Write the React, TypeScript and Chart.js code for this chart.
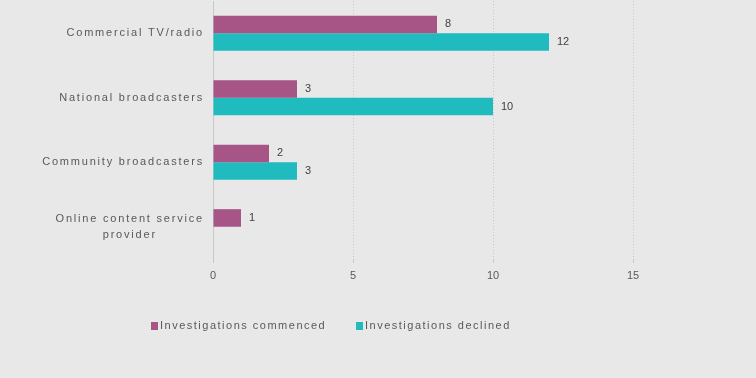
import React, { useEffect, useRef } from "react";
import { Chart, registerables } from "chart.js";

Chart.register(...registerables);

const categories: (string | string[])[] = [
  "Commercial TV/radio",
  "National broadcasters",
  "Community broadcasters",
  ["Online content service", "provider"],
];
const commenced = [8, 3, 2, 1];
const declined: (number | null)[] = [12, 10, 3, null];
const seriesNames = ["Investigations commenced", "Investigations declined"];
const colors = ["#A65586", "#1FBBBF"];

const BG = "#E8E8E8";
const TEXT = "#595959";
const FONT = "'Liberation Sans', Arial, sans-serif";

const customPlugin = {
  id: "custom",
  beforeDraw(chart: any) {
    const ctx = chart.ctx;
    ctx.save();
    ctx.fillStyle = BG;
    ctx.fillRect(0, 0, chart.width, chart.height);
    ctx.restore();
  },
  afterDraw(chart: any) {
    const ctx = chart.ctx as any;
    const y = chart.scales.y;
    // y labels
    ctx.save();
    ctx.font = `11px ${FONT}`;
    ctx.fillStyle = TEXT;
    ctx.letterSpacing = "1.8px";
    ctx.textBaseline = "middle";
    ctx.textAlign = "center";
    const right = 204;
    categories.forEach((lab, i) => {
      const lines = Array.isArray(lab) ? lab : [lab];
      const cy = y.getPixelForTick(i);
      const w = Math.max(...lines.map((l) => ctx.measureText(l).width));
      const cx = right - w / 2;
      const lh = 16;
      lines.forEach((l, j) => {
        const ly = cy + (j - (lines.length - 1) / 2) * lh;
        ctx.fillText(l, cx, ly);
      });
    });
    // legend
    ctx.letterSpacing = "1.5px";
    ctx.textAlign = "left";
    const legendY = 326;
    const xs = [151, 356];
    seriesNames.forEach((n, i) => {
      ctx.fillStyle = colors[i];
      ctx.fillRect(xs[i], legendY - 4, 7, 8);
      ctx.fillStyle = TEXT;
      ctx.fillText(n, xs[i] + 9, legendY);
    });
    ctx.restore();

    // data labels
    ctx.save();
    ctx.letterSpacing = "0px";
    ctx.font = `11px ${FONT}`;
    ctx.fillStyle = "#404040";
    ctx.textBaseline = "middle";
    ctx.textAlign = "left";
    chart.data.datasets.forEach((ds: any, di: number) => {
      const meta = chart.getDatasetMeta(di);
      meta.data.forEach((el: any, i: number) => {
        const v = ds.data[i];
        if (v === null || v === undefined) return;
        ctx.fillText(String(v), el.x + 8, el.y);
      });
    });
    ctx.restore();
  },
};

export default function App() {
  const ref = useRef<HTMLCanvasElement>(null);
  useEffect(() => {
    document.body.style.margin = "0";
    document.body.style.background = BG;
    const chart = new Chart(ref.current!, {
      type: "bar",
      data: {
        labels: categories.map((c) => (Array.isArray(c) ? c.join(" ") : c)),
        datasets: [
          { label: seriesNames[0], data: commenced, backgroundColor: colors[0] },
          { label: seriesNames[1], data: declined, backgroundColor: colors[1] },
        ],
      },
      options: {
        indexAxis: "y",
        animation: false,
        responsive: false,
        maintainAspectRatio: false,
        layout: { padding: { top: 1, right: 123, bottom: 0, left: 0 } },
        datasets: {
          bar: { categoryPercentage: 0.545, barPercentage: 1 },
        },
        plugins: {
          legend: { display: false },
          tooltip: { enabled: false },
        },
        scales: {
          x: {
            min: 0,
            max: 15,
            ticks: {
              stepSize: 5,
              color: TEXT,
              font: { family: FONT, size: 11 },
              padding: 6,
            },
            grid: {
              color: "#C8C8C8",
              tickColor: "#C8C8C8",
              tickLength: 4,
              drawTicks: true,
            },
            border: { display: false, dash: [1, 2] },
            afterFit(scale: any) {
              scale.height = 119;
            },
          } as any,
          y: {
            ticks: { display: false },
            grid: { display: false },
            border: { display: true, color: "#C8C8C8", dash: [1, 2] },
            afterFit(scale: any) {
              scale.width = 213;
            },
          } as any,
        },
      } as any,
      plugins: [customPlugin],
    });
    return () => chart.destroy();
  }, []);
  return (
    <div style={{ width: 756, height: 378 }}>
      <canvas ref={ref} width={756} height={378} style={{ width: 756, height: 378 }} />
    </div>
  );
}
